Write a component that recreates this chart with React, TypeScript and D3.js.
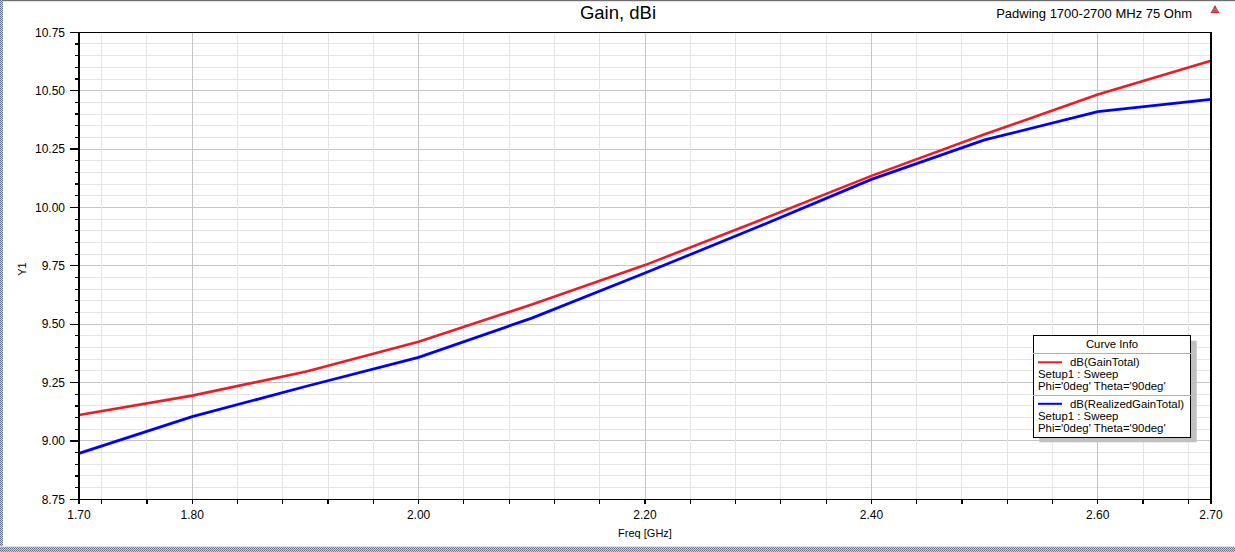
import React from "react";
import * as d3 from "d3";

// ---- data ----
const freqs = [1.7, 1.8, 1.9, 2.0, 2.1, 2.2, 2.3, 2.4, 2.5, 2.6, 2.7];
const gainTotal = [9.111, 9.194, 9.296, 9.425, 9.584, 9.753, 9.942, 10.135, 10.313, 10.484, 10.628];
const realizedGainTotal = [8.947, 9.104, 9.233, 9.358, 9.526, 9.719, 9.917, 10.12, 10.289, 10.41, 10.463];
const xTickLabels = [1.7, 1.8, 2.0, 2.2, 2.4, 2.6, 2.7];
const yTickLabels = [8.75, 9.0, 9.25, 9.5, 9.75, 10.0, 10.25, 10.5, 10.75];
const seriesNames = ["dB(GainTotal)", "dB(RealizedGainTotal)"];
const seriesColors = ["#ed1c24", "#0000ff"];
const setupLines = ["Setup1 : Sweep", "Phi='0deg' Theta='90deg'"];

const W = 1235;
const H = 552;
const L = 79, R = 1211, T = 32.3, B = 499.3;
const FONT = "Arial, 'Liberation Sans', sans-serif";

export default function App() {
  const x = d3.scaleLinear().domain([1.7, 2.7]).range([L, R]);
  const y = d3.scaleLinear().domain([8.75, 10.75]).range([B, T]);

  const vGrid = d3.range(43, 68).map((k) => ({ v: k * 0.04, major: k % 5 === 0 }));
  const hGrid = d3.range(176, 215).map((k) => ({ v: k * 0.05, major: k % 5 === 0 }));

  const line = d3
    .line<[number, number]>()
    .x((d) => x(d[0]))
    .y((d) => y(d[1]));

  const series = [gainTotal, realizedGainTotal];

  const lgX = 1033.3, lgY = 335.7, lgW = 157.4, lgH = 101.6;

  return (
    <svg
      width={W}
      height={H}
      style={{ position: "fixed", left: 0, top: 0, background: "#fff" }}
      fontFamily={FONT}
    >
      <defs>
        <pattern id="hatch" width="2" height="2" patternUnits="userSpaceOnUse">
          <rect width="2" height="2" fill="#c9cdd8" />
          <rect width="1" height="1" fill="#5d6a88" />
          <rect x="1" y="1" width="1" height="1" fill="#7b86a0" />
        </pattern>
      </defs>
      <rect x={0} y={0} width={W} height={H} fill="#fff" />
      {/* window frame */}
      <rect x={0} y={0} width={W} height={1.2} fill="#6e6e6e" />
      <rect x={0} y={0} width={3} height={H} fill="url(#hatch)" />
      <rect x={0} y={546} width={W} height={1} fill="#e0e0e0" />
      <rect x={0} y={547} width={W} height={5} fill="url(#hatch)" />

      {/* grid */}
      <g shapeRendering="crispEdges">
        {hGrid.map((g, i) => (
          <line key={"h" + i} x1={L} x2={R} y1={y(g.v)} y2={y(g.v)} stroke={g.major ? "#c4c4c4" : "#e4e4e4"} strokeWidth={1} />
        ))}
        {vGrid.map((g, i) => (
          <line key={"v" + i} y1={T} y2={B} x1={x(g.v)} x2={x(g.v)} stroke={g.major ? "#c4c4c4" : "#e4e4e4"} strokeWidth={1} />
        ))}
      </g>

      {/* curves */}
      {series.map((s, i) => (
        <path
          key={"s" + i}
          d={line(freqs.map((f, j) => [f, s[j]]) as [number, number][]) || ""}
          fill="none"
          stroke={seriesColors[i]}
          strokeWidth={i === 0 ? 2.6 : 2.8}
        />
      ))}

      {/* plot border */}
      <rect x={L} y={T} width={R - L} height={B - T} fill="none" stroke="#000" strokeWidth={1.2} shapeRendering="crispEdges" />

      {/* ticks */}
      <g shapeRendering="crispEdges" stroke="#000" strokeWidth={1.2}>
        {hGrid.concat([{ v: 8.75, major: true }, { v: 10.75, major: true }]).map((g, i) => (
          <line key={"yt" + i} x1={g.major ? 70 : 75} x2={L} y1={y(g.v)} y2={y(g.v)} />
        ))}
        {vGrid.concat([{ v: 1.7, major: true }, { v: 2.7, major: true }]).map((g, i) => (
          <line key={"xt" + i} y1={B} y2={B + 5} x1={x(g.v)} x2={x(g.v)} />
        ))}
      </g>

      {/* tick labels */}
      <g fontSize={12} fill="#000">
        {yTickLabels.map((v, i) => (
          <text key={"yl" + i} x={65} y={y(v)} dy="0.35em" textAnchor="end">
            {v.toFixed(2)}
          </text>
        ))}
        {xTickLabels.map((v, i) => (
          <text key={"xl" + i} x={x(v)} y={518.5} textAnchor="middle">
            {v.toFixed(2)}
          </text>
        ))}
      </g>

      {/* axis titles */}
      <text x={(L + R) / 2} y={537} fontSize={11} textAnchor="middle" fill="#000">
        Freq [GHz]
      </text>
      <text transform="translate(26,269) rotate(-90)" fontSize={11} textAnchor="middle" fill="#000">
        Y1
      </text>

      {/* title */}
      <text x={618} y={19} fontSize={18.5} textAnchor="middle" fill="#000">
        Gain, dBi
      </text>
      <text x={1192} y={17.5} fontSize={13} textAnchor="end" fill="#000">
        Padwing 1700-2700 MHz 75 Ohm
      </text>

      {/* logo */}
      <g>
        <polygon points="1215,5 1210.5,13 1219.5,13" fill="#d8242c" />
        <line x1={1213} y1={9} x2={1217} y2={9} stroke="#9a9a9a" strokeWidth={1} />
        <line x1={1212} y1={11} x2={1218} y2={11} stroke="#9a9a9a" strokeWidth={1} />
      </g>

      {/* legend */}
      <rect x={lgX + 6} y={lgY + 5} width={lgW} height={lgH} fill="#c0c0c0" />
      <rect x={lgX} y={lgY} width={lgW} height={lgH} fill="#fff" stroke="#000" strokeWidth={1} shapeRendering="crispEdges" />
      <text x={lgX + lgW / 2} y={348} fontSize={11.3} textAnchor="middle" fill="#000">
        Curve Info
      </text>
      <line x1={lgX} x2={lgX + lgW} y1={353.5} y2={353.5} stroke="#b0b0b0" shapeRendering="crispEdges" />
      <line x1={lgX} x2={lgX + lgW} y1={395.5} y2={395.5} stroke="#b0b0b0" shapeRendering="crispEdges" />
      {seriesNames.map((name, i) => {
        const base = 362.3 + i * 41.5;
        return (
          <g key={"lg" + i} fontSize={11.4} fill="#000">
            <line x1={1038} x2={1062} y1={base} y2={base} stroke={seriesColors[i]} strokeWidth={2} />
            <text x={1070} y={base + 4}>{name}</text>
            {setupLines.map((t, j) => (
              <text key={j} x={1038} y={base + 4 + 12 * (j + 1)}>
                {t}
              </text>
            ))}
          </g>
        );
      })}
    </svg>
  );
}
